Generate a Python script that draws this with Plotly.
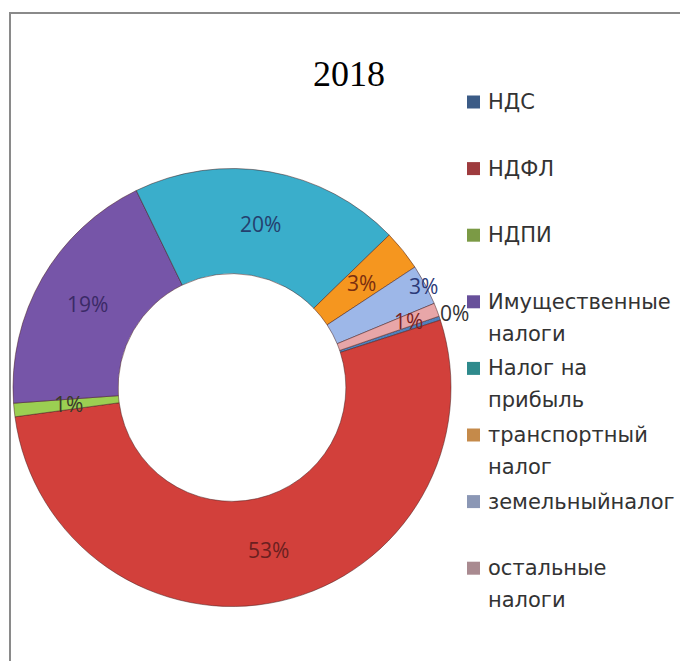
import math
import plotly.graph_objects as go

# ── data ──────────────────────────────────────────────────────────────────────
labels = [
    "НДС", "НДФЛ", "НДПИ", "Имущественные налоги", "Налог на прибыль",
    "транспортный налог", "земельныйналог", "остальные налоги",
]
shares = [0.3, 53, 1, 19, 20, 3, 3, 1]   # % of 2018 tax revenue
title_text = "2018"

# ── style ─────────────────────────────────────────────────────────────────────
slice_colors  = ["#4f81bd", "#d2403b", "#9bcf52", "#7655a8", "#3aaecb",
                 "#f5961f", "#9db7e8", "#e8a6a8"]
legend_colors = ["#3b5b86", "#9e3b3e", "#7b9a45", "#67509a", "#2e8a8c",
                 "#c58a4a", "#8b97b5", "#a98a90"]
label_colors  = ["#333333", "#6b1f1f", "#3a3a2a", "#3b2a66", "#24406e",
                 "#7a2e10", "#2b3a78", "#7a1f1f"]
label_radius  = [1.07, 0.76, 0.75, 0.76, 0.76, 0.76, 0.99, 0.86]  # fraction of outer radius
ROTATION = 71
W, H = 680, 661
R_PX = 219                       # outer radius in px
CX, CY = 232, 387.5              # donut centre in px (from top-left)
EXTRA = 0.25                     # extra axis room right/top for outside labels

dom_x = [(CX - R_PX) / W, (CX + R_PX) / W]
dom_y = [(H - CY - R_PX) / H, (H - CY + R_PX) / H]

fig = go.Figure(go.Pie(
    labels=labels, values=shares,
    sort=False, direction="clockwise", rotation=ROTATION,
    hole=0.52, domain=dict(x=dom_x, y=dom_y),
    marker=dict(colors=slice_colors, line=dict(color="rgba(70,30,30,0.5)", width=1)),
    textinfo="none", showlegend=False,
    hoverinfo="label+percent",
))
# hidden axes over the pie, so the percent labels can sit mid-ring like in Excel
fig.add_trace(go.Scatter(x=[], y=[], showlegend=False, hoverinfo="skip"))

total = sum(shares)
annotations = []
cum = 0.0
for v, rr, col in zip(shares, label_radius, label_colors):
    ang = math.radians(ROTATION + (cum + v / 2) / total * 360)
    cum += v
    annotations.append(dict(
        text=f"{v / total:.0%}", xref="x", yref="y",
        x=rr * math.sin(ang), y=rr * math.cos(ang),
        showarrow=False, xanchor="center", yanchor="middle",
        font=dict(family="Open Sans, sans-serif", size=21, color=col),
    ))

# frame + title + hand-built legend (marker lines up with first text line)
shapes = [dict(
    type="rect", xref="paper", yref="paper",
    x0=10 / W, x1=1.05, y0=-0.05, y1=1 - 13 / H,
    line=dict(color="#8a8a8a", width=2), fillcolor="rgba(0,0,0,0)", layer="below",
)]
annotations.append(dict(
    text=title_text, xref="paper", yref="paper", x=349 / W, y=1 - 74 / H,
    showarrow=False, xanchor="center", yanchor="middle",
    font=dict(family="Liberation Serif, serif", size=36, color="#000000"),
))
for i, (lab, col) in enumerate(zip(labels, legend_colors)):
    y_px = 102 + 66.6 * i
    shapes.append(dict(
        type="rect", xref="paper", yref="paper",
        x0=467 / W, x1=480 / W, y0=1 - (y_px + 6.5) / H, y1=1 - (y_px - 6.5) / H,
        line=dict(width=0), fillcolor=col,
    ))
    lines = lab.rsplit(" ", 1) if " " in lab else [lab]
    for j, ln in enumerate(lines):
        annotations.append(dict(
            text=ln, xref="paper", yref="paper", x=486 / W, y=1 - (y_px + 32 * j) / H,
            showarrow=False, xanchor="left", yanchor="middle",
            font=dict(family="DejaVu Sans, sans-serif", size=21, color="#333333"),
        ))

ext = R_PX * EXTRA
fig.update_layout(
    width=W, height=H,
    margin=dict(t=0, b=0, l=0, r=0),
    paper_bgcolor="white", plot_bgcolor="rgba(0,0,0,0)",
    xaxis=dict(domain=[dom_x[0], (CX + R_PX + ext) / W], range=[-1, 1 + EXTRA],
               visible=False, fixedrange=True),
    yaxis=dict(domain=[dom_y[0], (H - CY + R_PX + ext) / H], range=[-1, 1 + EXTRA],
               visible=False, fixedrange=True),
    shapes=shapes, annotations=annotations,
)
fig.write_html("out.html", config={"displayModeBar": False},
               post_script="document.body.style.margin = '0';")
